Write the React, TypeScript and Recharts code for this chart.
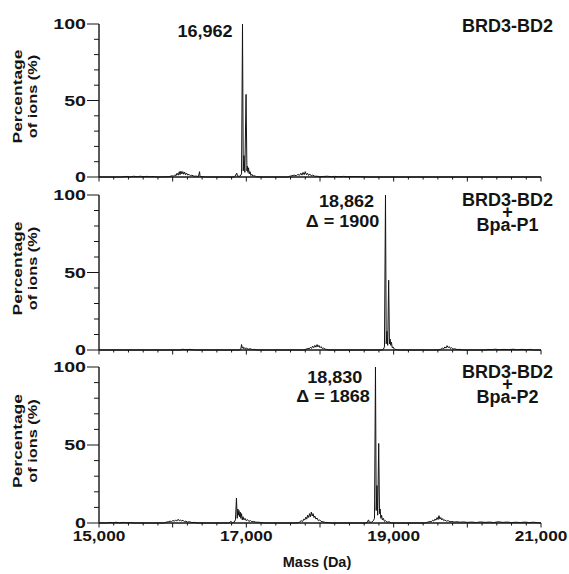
import React from 'react';
import { LineChart, Line, XAxis, YAxis, ReferenceDot } from 'recharts';

const FONT = '"Liberation Sans", Arial, Helvetica, sans-serif';
const INK = '#141414';

// ---- axis ticks ----
const massTicks = [15000, 15200, 15400, 15600, 15800, 16000, 16200, 16400, 16600, 16800, 17000, 17200, 17400, 17600, 17800, 18000, 18200, 18400, 18600, 18800, 19000, 19200, 19400, 19600, 19800, 20000, 20200, 20400, 20600, 20800, 21000];
const majorMassTicks = [15000, 16000, 17000, 18000, 19000, 20000, 21000];
const massTickLabels = [15000, 17000, 19000, 21000];
const pctTicks = [0, 10, 20, 30, 40, 50, 60, 70, 80, 90, 100];
const pctTickLabels = [0, 50, 100];

// ---- panel texts ----
const panelTitles = [['BRD3-BD2'], ['BRD3-BD2', '+', 'Bpa-P1'], ['BRD3-BD2', '+', 'Bpa-P2']];
const peakMasses = [16948, 18889, 18753];
const peakLabels = [['16,962'], ['18,862', 'Δ = 1900'], ['18,830', 'Δ = 1868']];

// ---- spectrum: BRD3-BD2 ----
const bd2Mass = [15000, 15300, 15380, 15420, 15470, 15520, 15560, 15610, 15650, 15700, 15750, 15800, 15950, 15990, 16010, 16030, 16045, 16060, 16075, 16090, 16100, 16112, 16125, 16138, 16150, 16162, 16175, 16190, 16205, 16220, 16240, 16260, 16290, 16320, 16350, 16365, 16372, 16400, 16450, 16840, 16870, 16880, 16915, 16935, 16948, 16958, 16968, 16980, 16996, 17008, 17015, 17022, 17030, 17040, 17050, 17062, 17075, 17090, 17110, 17140, 17200, 17560, 17590, 17620, 17650, 17680, 17700, 17720, 17740, 17755, 17770, 17785, 17800, 17815, 17830, 17845, 17860, 17880, 17900, 17930, 17960, 18000, 18100, 18150, 18200, 18250, 18320, 18380, 18450, 18550, 18650, 21000];
const bd2Pct = [0, 0, 0.4, 0, 0.5, 0.2, 0.5, 0.2, 0.4, 0.2, 0.3, 0, 0.2, 0.8, 0.5, 1.5, 0.8, 2.5, 1.2, 3.5, 1.5, 3.8, 2, 3.5, 1.8, 3.2, 1.5, 2.5, 1.2, 1.8, 0.8, 1.2, 0.5, 0.6, 0.3, 3.5, 0.3, 0.2, 0, 0, 2.5, 0.5, 0.5, 2, 100, 4, 14, 3, 54, 4, 7, 3, 6, 2, 3.5, 1, 1.8, 0.6, 0.8, 0.2, 0, 0, 0.5, 0.8, 1.2, 0.8, 1.8, 1, 2.5, 1.2, 3, 1.5, 3.5, 1.5, 2.5, 1, 2, 0.8, 1.2, 0.5, 0.5, 0.2, 0.5, 0.2, 0.4, 0.2, 0.4, 0.2, 0.3, 0.2, 0, 0];

// ---- spectrum: BRD3-BD2 + Bpa-P1 ----
const p1Mass = [15000, 16100, 16130, 16170, 16240, 16300, 16900, 16925, 16935, 16945, 16955, 16965, 16978, 16990, 17005, 17025, 17050, 17080, 17110, 17150, 17780, 17810, 17835, 17855, 17870, 17885, 17900, 17915, 17930, 17945, 17960, 17972, 17985, 18000, 18015, 18030, 18050, 18070, 18090, 18120, 18840, 18860, 18875, 18889, 18899, 18909, 18919, 18932, 18943, 18952, 18960, 18970, 18980, 18992, 19010, 19040, 19080, 19600, 19640, 19665, 19680, 19695, 19710, 19725, 19740, 19755, 19770, 19785, 19805, 19830, 19860, 19900, 19950, 20250, 20280, 20320, 20380, 20430, 20500, 20560, 20620, 20680, 20740, 20800, 20860, 20900, 21000];
const p1Pct = [0, 0, 0.5, 0.2, 0.4, 0, 0, 0.5, 3.5, 1.2, 2, 0.8, 1.5, 0.6, 1.2, 0.5, 0.8, 0.3, 0.4, 0, 0, 0.5, 1, 0.8, 1.8, 1, 2.5, 1.5, 3, 1.8, 3.5, 2, 3, 1.5, 2.2, 1, 1.2, 0.5, 0.4, 0, 0, 0.5, 2, 100, 4, 12, 3, 45, 4, 7, 3, 5, 1.5, 2, 0.5, 0.3, 0, 0, 0.5, 1.2, 0.8, 2, 1.2, 2.8, 1.5, 2.2, 1, 1.5, 0.6, 0.8, 0.3, 0.4, 0, 0, 0.4, 0.2, 0.5, 0.2, 0.4, 0.2, 0.5, 0.2, 0.4, 0.2, 0.4, 0, 0];

// ---- spectrum: BRD3-BD2 + Bpa-P2 ----
const p2Mass = [15000, 15100, 15150, 15190, 15230, 15280, 15330, 15380, 15430, 15480, 15880, 15910, 15940, 15965, 15985, 16005, 16020, 16040, 16055, 16075, 16090, 16105, 16120, 16140, 16160, 16180, 16200, 16230, 16260, 16300, 16330, 16760, 16790, 16810, 16835, 16852, 16866, 16876, 16885, 16893, 16900, 16908, 16917, 16925, 16935, 16945, 16955, 16968, 16982, 16998, 17015, 17035, 17055, 17075, 17100, 17130, 17170, 17210, 17260, 17690, 17720, 17745, 17765, 17780, 17795, 17808, 17820, 17833, 17846, 17858, 17870, 17882, 17894, 17906, 17918, 17930, 17945, 17960, 17978, 17995, 18015, 18040, 18070, 18110, 18150, 18620, 18640, 18658, 18670, 18700, 18725, 18740, 18753, 18763, 18773, 18783, 18797, 18808, 18816, 18826, 18836, 18846, 18860, 18875, 18890, 18910, 18940, 18970, 19420, 19460, 19490, 19510, 19530, 19545, 19560, 19575, 19590, 19603, 19615, 19628, 19640, 19652, 19665, 19680, 19695, 19715, 19740, 19765, 19790, 19820, 19860, 19900, 19950, 20000, 20060, 20120, 20180, 20240, 20300, 20360, 20420, 20480, 20540, 20600, 20660, 20720, 20780, 20840, 20900, 20960, 21000];
const p2Pct = [0, 0, 0.4, 0.1, 0.5, 0.1, 0.4, 0.1, 0.3, 0, 0, 0.5, 0.8, 1.2, 0.8, 1.8, 1, 2, 1.2, 2.4, 1.4, 2, 1.2, 1.8, 0.8, 1.2, 0.6, 0.8, 0.3, 0.4, 0, 0, 1, 0.3, 0.5, 2, 16, 3, 9, 5, 8, 4, 7, 3, 6, 2, 4, 2, 3, 1.5, 2.2, 1, 1.6, 0.8, 1, 0.5, 0.5, 0.2, 0, 0, 0.5, 1.5, 1, 2.5, 2, 3.8, 2.5, 5, 3.5, 6, 4, 7, 4.5, 6, 3.5, 4.5, 2.5, 3.2, 1.5, 2, 1, 0.8, 0.4, 0.3, 0, 0, 0.3, 2, 0.5, 0.5, 1.5, 3, 100, 8, 24, 5, 51, 6, 9, 3, 5, 2, 3, 1, 1.5, 0.5, 0.8, 0, 0, 0.5, 1, 0.8, 1.8, 1.2, 2.5, 1.8, 3.5, 2.2, 4.7, 2.5, 3.5, 2, 2.8, 1.5, 2, 1.2, 1.5, 0.8, 1, 0.6, 0.8, 0.5, 0.7, 0.4, 0.6, 0.3, 0.7, 0.4, 0.6, 0.3, 0.8, 0.4, 0.6, 0.3, 0.5, 0.3, 0.6, 0.3, 0.5, 0.2, 0];

const toRows = (mass: number[], pct: number[]) => mass.map((m, i) => ({ mass: m, pct: pct[i] }));
const spectra = [toRows(bd2Mass, bd2Pct), toRows(p1Mass, p1Pct), toRows(p2Mass, p2Pct)];

const fmt = (v: number) => v.toLocaleString('en-US');

function XTick(props: any) {
  const { x, y, payload, showLabels } = props;
  const v = payload.value;
  const major = majorMassTicks.includes(v);
  return (
    <g>
      <line x1={x} x2={x} y1={y} y2={y + (major ? 4.5 : 2.5)} stroke={INK} strokeWidth={1} />
      {showLabels && massTickLabels.includes(v) ? (
        <text
          transform={`translate(${x},${y + 17.5}) scale(1.15,1)`}
          textAnchor="middle"
          fontFamily={FONT}
          fontWeight="bold"
          fontSize={15}
          fill={INK}
        >
          {fmt(v)}
        </text>
      ) : null}
    </g>
  );
}

function YTick(props: any) {
  const { x, y, payload } = props;
  const v = payload.value;
  const labeled = pctTickLabels.includes(v);
  return (
    <g>
      <line x1={x - (labeled ? 12 : 5)} x2={x} y1={y} y2={y} stroke={INK} strokeWidth={1} />
      {labeled ? (
        <text
          transform={`translate(${x - 13},${y + 5.3}) scale(1.35,1)`}
          textAnchor="end"
          fontFamily={FONT}
          fontWeight="bold"
          fontSize={14.5}
          fill={INK}
        >
          {v}
        </text>
      ) : null}
    </g>
  );
}

function YTitle(props: any) {
  const vb = props.viewBox || { x: 0, y: 0, width: 0, height: 0 };
  const cy = vb.y + vb.height / 2 - 4;
  return (
    <g>
      <text
        transform={`translate(${vb.x + 22.2},${cy}) rotate(-90) scale(1.3,1)`}
        textAnchor="middle"
        fontFamily={FONT}
        fontWeight="bold"
        fontSize={13.4}
        fill={INK}
      >
        Percentage
      </text>
      <text
        transform={`translate(${vb.x + 36.5},${cy}) rotate(-90) scale(1.22,1)`}
        textAnchor="middle"
        fontFamily={FONT}
        fontWeight="bold"
        fontSize={13.4}
        fill={INK}
      >
        of ions (%)
      </text>
    </g>
  );
}

function XTitle(props: any) {
  const vb = props.viewBox || { x: 0, y: 0, width: 0, height: 0 };
  return (
    <text
      x={vb.x + vb.width / 2 - 3}
      y={vb.y + 43.7}
      textAnchor="middle"
      fontFamily={FONT}
      fontWeight="bold"
      fontSize={14.5}
      fill={INK}
    >
      Mass (Da)
    </text>
  );
}

const peakOffsets = [
  [{ dx: -10, dy: 12.7, anchor: 'end' }],
  [{ dx: -39, dy: 11.7, anchor: 'middle' }, { dx: -43, dy: 31.7, anchor: 'middle' }],
  [{ dx: -40.7, dy: 16.3, anchor: 'middle' }, { dx: -42.4, dy: 34.7, anchor: 'middle' }],
];

function PeakLabel(props: any, idx: number) {
  const vb = props.viewBox || { x: 0, y: 0 };
  const lines = peakLabels[idx];
  return (
    <g>
      {lines.map((t, i) => {
        const o = peakOffsets[idx][i];
        return (
          <text
            key={i}
            transform={`translate(${vb.x + o.dx},${vb.y + o.dy}) scale(1.1,1)`}
            textAnchor={o.anchor}
            fontFamily={FONT}
            fontWeight="bold"
            fontSize={16.4}
            fill={INK}
          >
            {t}
          </text>
        );
      })}
    </g>
  );
}

const panelLayout = [
  { top: 0, height: 190, marginTop: 24, xAxisHeight: 13 },
  { top: 185, height: 177, marginTop: 10, xAxisHeight: 12 },
  { top: 357, height: 217, marginTop: 10, xAxisHeight: 51 },
];

function Panel({ idx }: { idx: number }) {
  const lay = panelLayout[idx];
  const isLast = idx === 2;
  return (
    <div style={{ position: 'absolute', left: 0, top: lay.top, width: 569, height: lay.height }}>
      <LineChart
        width={569}
        height={lay.height}
        data={spectra[idx]}
        margin={{ top: lay.marginTop, right: 28, bottom: 0, left: 0 }}
      >
        <XAxis
          dataKey="mass"
          type="number"
          domain={[15000, 21000]}
          ticks={massTicks}
          interval={0}
          tickSize={0}
          tickMargin={0}
          height={lay.xAxisHeight}
          axisLine={{ stroke: INK, strokeWidth: 1.4 }}
          tickLine={false}
          tick={(p: any) => <XTick {...p} showLabels={isLast} />}
          label={isLast ? (p: any) => <XTitle {...p} /> : undefined}
        />
        <YAxis
          type="number"
          domain={[0, 100]}
          ticks={pctTicks}
          interval={0}
          width={99}
          tickSize={0}
          tickMargin={0}
          axisLine={{ stroke: INK, strokeWidth: 1.4 }}
          tickLine={false}
          tick={(p: any) => <YTick {...p} />}
          label={(p: any) => <YTitle {...p} />}
        />
        <Line
          type="linear"
          dataKey="pct"
          stroke={INK}
          strokeWidth={1}
          dot={false}
          activeDot={false}
          isAnimationActive={false}
        />
        <ReferenceDot
          x={peakMasses[idx]}
          y={100}
          r={0}
          fill="none"
          stroke="none"
          label={(p: any) => PeakLabel(p, idx)}
        />
      </LineChart>
    </div>
  );
}

const titleLayout = [
  [32],
  [206, 218, 231],
  [378, 390, 403],
];

export default function App() {
  return (
    <div style={{ position: 'absolute', left: 0, top: 0, width: 569, height: 574, background: '#fff' }}>
      <Panel idx={0} />
      <Panel idx={1} />
      <Panel idx={2} />
      <svg
        width={569}
        height={574}
        style={{ position: 'absolute', left: 0, top: 0, pointerEvents: 'none' }}
      >
        {panelTitles.map((lines, pi) =>
          lines.map((t, li) => (
            <text
              key={`${pi}-${li}`}
              x={507.5}
              y={titleLayout[pi][li]}
              textAnchor="middle"
              fontFamily={FONT}
              fontWeight="bold"
              fontSize={18}
              fill={INK}
            >
              {t}
            </text>
          ))
        )}
      </svg>
    </div>
  );
}
